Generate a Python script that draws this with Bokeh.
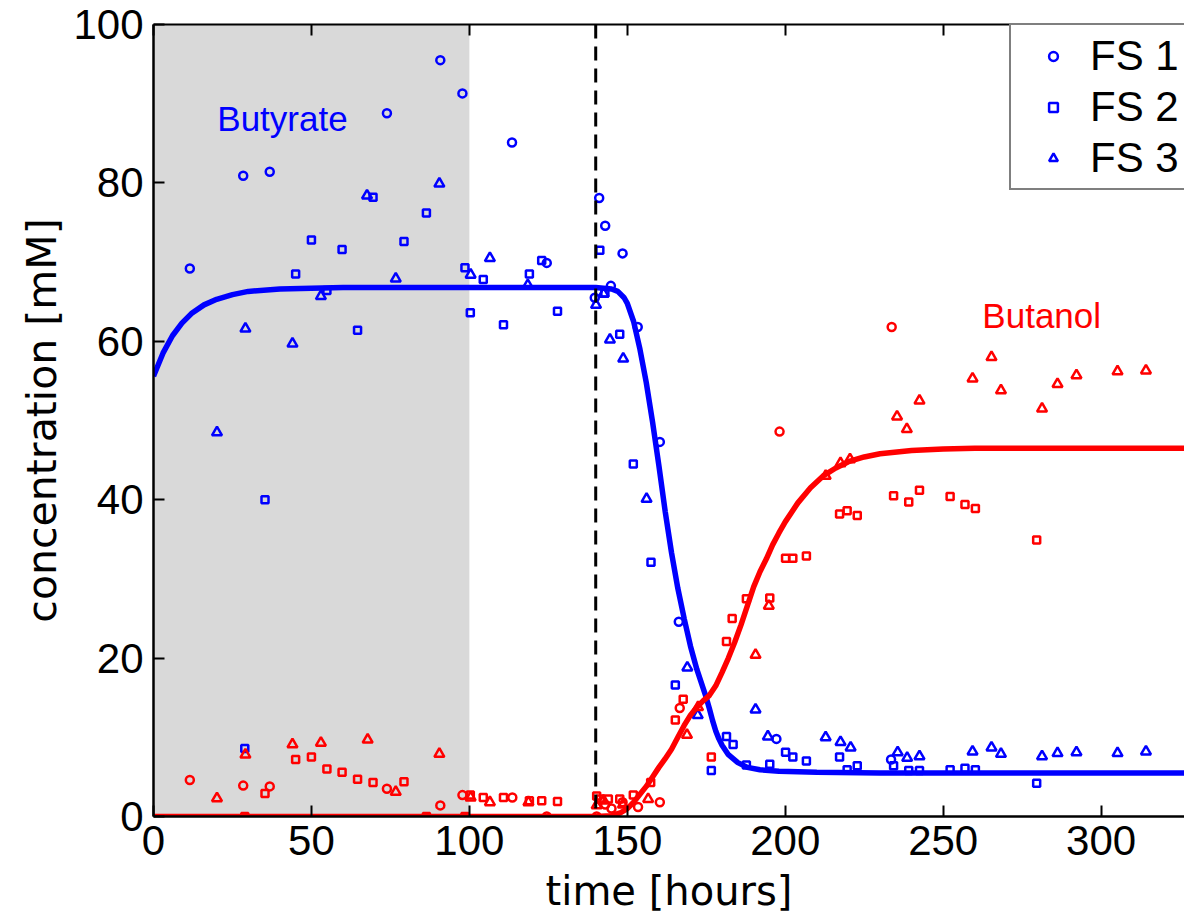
from bokeh.plotting import figure
from bokeh.models import (Range1d, LinearAxis, BoxAnnotation, Span, Legend,
                          LegendItem, FixedTicker, Label)
from bokeh.embed import file_html
from bokeh.resources import INLINE

# ---------------- data ----------------
x_ticks = [0, 50, 100, 150, 200, 250, 300]
y_ticks = [0, 20, 40, 60, 80, 100]

# Butyrate (blue) measurements
but_fs1_t = [11.5, 28.4, 36.8, 73.9, 90.8, 97.8, 113.5, 124.5, 139.7, 141.1, 143.0, 144.8,
             148.5, 153.3, 160.3, 166.3, 197.2, 233.5]
but_fs1_c = [69.2, 80.9, 81.4, 88.8, 95.5, 91.3, 85.1, 69.9, 65.5, 78.1, 74.6, 67.0,
             71.1, 61.8, 47.3, 24.6, 9.8, 7.2]

but_fs2_t = [28.9, 35.3, 45.0, 50.0, 54.9, 59.7, 64.6, 69.5, 79.3, 86.4, 98.6, 100.3, 104.4,
             110.8, 119.0, 122.9, 127.9, 141.3, 142.9, 147.6, 151.9, 157.5, 165.2, 176.6,
             181.4, 183.5, 187.7, 195.1, 200.1, 202.4, 206.7, 217.2, 219.6, 222.8, 234.3,
             239.1, 242.5, 252.2, 256.9, 260.2, 279.6]
but_fs2_c = [8.6, 40.0, 68.5, 72.8, 66.4, 71.6, 61.4, 78.2, 72.6, 76.2, 69.3, 63.6, 67.8,
             62.1, 68.5, 70.2, 63.8, 71.5, 66.1, 60.9, 44.5, 32.1, 16.6, 5.8,
             10.1, 9.1, 6.5, 6.6, 8.1, 7.5, 7.0, 7.5, 5.9, 6.4, 6.4,
             5.8, 5.8, 5.9, 6.1, 5.9, 4.2]

but_fs3_t = [20.1, 29.1, 44.0, 53.0, 67.6, 76.7, 90.5, 100.4, 106.5, 118.5, 140.1, 142.5,
             144.5, 148.7, 156.1, 169.0, 172.3, 190.6, 194.5, 212.8, 217.5, 220.7, 235.6,
             238.6, 242.5, 259.3, 265.3, 268.3, 281.3, 286.2, 292.2, 305.2, 314.2]
but_fs3_c = [48.5, 61.6, 59.7, 65.7, 78.4, 67.9, 79.9, 68.4, 70.5, 67.1, 64.6, 66.0,
             60.2, 57.8, 40.1, 18.8, 12.8, 13.5, 10.1, 10.0, 9.4, 8.7, 8.1,
             7.4, 7.6, 8.2, 8.7, 7.9, 7.6, 8.0, 8.1, 8.0, 8.2]

# Butanol (red) measurements
bol_fs1_t = [11.5, 28.4, 36.8, 73.9, 90.8, 97.8, 113.6, 124.5, 140.3, 143.0, 145.0, 148.5,
             153.4, 160.3, 166.6, 198.2, 233.7]
bol_fs1_c = [4.6, 3.9, 3.8, 3.5, 1.4, 2.7, 2.4, 0.0, 0.0, 1.5, 1.0, 1.8,
             1.2, 1.8, 13.7, 48.6, 61.8]

bol_fs2_t = [28.9, 35.3, 45.0, 50.0, 54.9, 59.7, 64.6, 69.5, 79.3, 86.4, 98.6, 100.3, 104.4,
             110.8, 119.0, 122.9, 127.9, 140.3, 141.5, 144.0, 147.6, 151.9, 157.4, 165.2,
             167.7, 176.6, 181.4, 183.2, 187.7, 195.1, 200.1, 202.4, 206.7, 217.2, 219.6,
             222.8, 234.3, 239.1, 242.5, 252.2, 256.9, 260.2, 279.6]
bol_fs2_c = [0.0, 2.9, 7.2, 7.5, 6.0, 5.6, 4.7, 4.3, 4.4, 0.0, 0.0, 2.7, 2.4,
             2.4, 2.0, 2.0, 1.9, 2.6, 2.2, 2.2, 2.2, 2.7, 4.3, 12.2,
             14.8, 7.5, 22.1, 25.0, 27.5, 27.6, 32.6, 32.6, 32.9, 38.2, 38.6,
             38.0, 40.5, 39.7, 41.2, 40.4, 39.4, 38.9, 34.9]

bol_fs3_t = [20.1, 29.1, 44.0, 53.0, 67.8, 76.7, 90.5, 100.4, 106.5, 118.7, 140.3, 142.5,
             148.6, 156.6, 168.9, 172.4, 190.6, 194.8, 212.8, 217.5, 220.5, 235.4, 238.5,
             242.5, 259.3, 265.3, 268.3, 281.3, 286.2, 292.2, 305.2, 314.2]
bol_fs3_c = [2.3, 7.8, 9.1, 9.3, 9.7, 3.1, 7.9, 2.4, 1.8, 1.8, 1.4, 2.0,
             1.5, 2.2, 10.3, 13.8, 20.4, 26.6, 43.0, 44.6, 45.1, 50.5, 48.9,
             52.5, 55.3, 58.0, 53.8, 51.5, 54.6, 55.7, 56.2, 56.3]

# Model curves
but_fit_t = [0, 3, 6, 9, 12, 16, 20, 25, 30, 40, 50, 60, 100, 140, 145, 147, 149, 150, 152,
             154, 156, 158, 160, 162, 164, 166, 168, 170, 172, 174, 175, 176, 177, 178, 179,
             180, 182, 185, 188, 192, 198, 210, 230, 260, 330]
but_fit_c = [55.6, 58.5, 60.7, 62.3, 63.5, 64.6, 65.3, 65.9, 66.3, 66.6, 66.7, 66.8, 66.8,
             66.8, 66.6, 66.3, 65.5, 64.8, 62.5, 59.0, 54.8, 49.8, 44.3, 38.5, 33.3, 28.8,
             25.0, 21.5, 18.6, 16.2, 15.0, 13.6, 12.1, 10.8, 9.8, 9.0, 7.8, 6.8, 6.2, 5.9,
             5.7, 5.6, 5.5, 5.5, 5.5]

bol_fit_t = [0, 140, 145, 148, 150, 152, 154, 156, 158, 160, 162, 164, 166, 168, 170, 172,
             174, 176, 178, 180, 182, 184, 186, 188, 190, 192, 194, 196, 198, 200, 204, 208,
             212, 216, 220, 225, 230, 240, 250, 260, 330]
bol_fit_c = [0.0, 0.0, 0.1, 0.5, 1.0, 1.8, 2.8, 3.8, 5.0, 6.2, 7.3, 8.5, 10.0, 11.5, 12.8,
             13.8, 14.6, 15.3, 16.5, 18.2, 20.0, 22.0, 24.2, 26.6, 29.0, 30.9, 32.5, 34.3,
             35.8, 37.2, 39.6, 41.5, 43.0, 44.0, 44.8, 45.4, 45.8, 46.2, 46.4, 46.5, 46.5]

BLUE = "#0000ff"
RED = "#ff0000"
FONT = "Liberation Sans"

# ---------------- figure ----------------
p = figure(width=1184, height=921, output_backend="svg", toolbar_location=None,
           x_range=Range1d(0, 326.4), y_range=Range1d(0, 100),
           min_border_left=153, min_border_right=0, min_border_top=24, min_border_bottom=105)
p.outline_line_color = None
p.grid.visible = False
p.background_fill_color = "white"
p.border_fill_color = "white"

p.add_layout(BoxAnnotation(left=0, right=100, fill_color="#d9d9d9", fill_alpha=1.0,
                           line_color=None, level="underlay"))
p.add_layout(Span(location=140, dimension="height", line_color="black", line_width=3,
                  line_dash="14 8"))


def style_axis(ax):
    ax.axis_line_width = 2.5
    ax.axis_line_color = "black"
    ax.major_tick_line_width = 2
    ax.major_tick_line_color = "black"
    ax.major_tick_in = 11
    ax.major_tick_out = 0
    ax.minor_tick_line_color = None
    ax.major_label_text_font = FONT
    ax.major_label_text_font_size = "42px"
    ax.major_label_text_color = "black"
    ax.axis_label_text_font = "DejaVu Sans"
    ax.axis_label_text_font_style = "normal"
    ax.axis_label_text_color = "black"


xa = p.xaxis[0]
xa.ticker = FixedTicker(ticks=x_ticks)
style_axis(xa)
xa.axis_label = "time [hours]"
xa.axis_label_text_font_size = "40px"
xa.major_label_standoff = 9
xa.axis_label_standoff = 10

ya = p.yaxis[0]
ya.ticker = FixedTicker(ticks=y_ticks)
style_axis(ya)
ya.axis_label = "concentration [mM]"
ya.axis_label_text_font_size = "41px"
ya.major_label_standoff = 10
ya.axis_label_standoff = 4

top = LinearAxis(ticker=FixedTicker(ticks=x_ticks))
style_axis(top)
top.axis_line_width = 2
top.major_label_text_font_size = "0px"
top.major_label_overrides = {t: "" for t in x_ticks}
top.major_label_standoff = 0
p.add_layout(top, "above")

# ---------------- markers ----------------
mk = dict(fill_color=None, line_width=2.5)
c1 = p.scatter(but_fs1_t, but_fs1_c, marker="circle", size=8, line_color=BLUE, **mk)
c2 = p.scatter(but_fs2_t, but_fs2_c, marker="square", size=7, line_color=BLUE, **mk)
c3 = p.scatter(but_fs3_t, but_fs3_c, marker="triangle", size=10, line_color=BLUE, **mk)
p.scatter(bol_fs1_t, bol_fs1_c, marker="circle", size=8, line_color=RED, **mk)
p.scatter(bol_fs2_t, bol_fs2_c, marker="square", size=7, line_color=RED, **mk)
p.scatter(bol_fs3_t, bol_fs3_c, marker="triangle", size=10, line_color=RED, **mk)

# ---------------- model curves ----------------
p.line(but_fit_t, but_fit_c, line_color=BLUE, line_width=5.5)
p.line(bol_fit_t, bol_fit_c, line_color=RED, line_width=5.5)

# ---------------- labels ----------------
p.add_layout(Label(x=20.2, y=88.1, text="Butyrate", text_color=BLUE, text_font=FONT,
                   text_font_size="35px", text_baseline="alphabetic"))
p.add_layout(Label(x=262.4, y=63.2, text="Butanol", text_color=RED, text_font=FONT,
                   text_font_size="35px", text_baseline="alphabetic"))

legend = Legend(items=[LegendItem(label="FS 1", renderers=[c1]),
                       LegendItem(label="FS 2", renderers=[c2]),
                       LegendItem(label="FS 3", renderers=[c3])],
                location=(856, 626), orientation="vertical",
                label_text_font=FONT, label_text_font_size="42px",
                label_text_color="black", label_height=51, glyph_height=22,
                glyph_width=74, label_standoff=0, padding=5, spacing=0, margin=0,
                border_line_color="black", border_line_width=2,
                background_fill_color="white", background_fill_alpha=1.0)
p.add_layout(legend)

open("out.html", "w").write(file_html(p, INLINE))
